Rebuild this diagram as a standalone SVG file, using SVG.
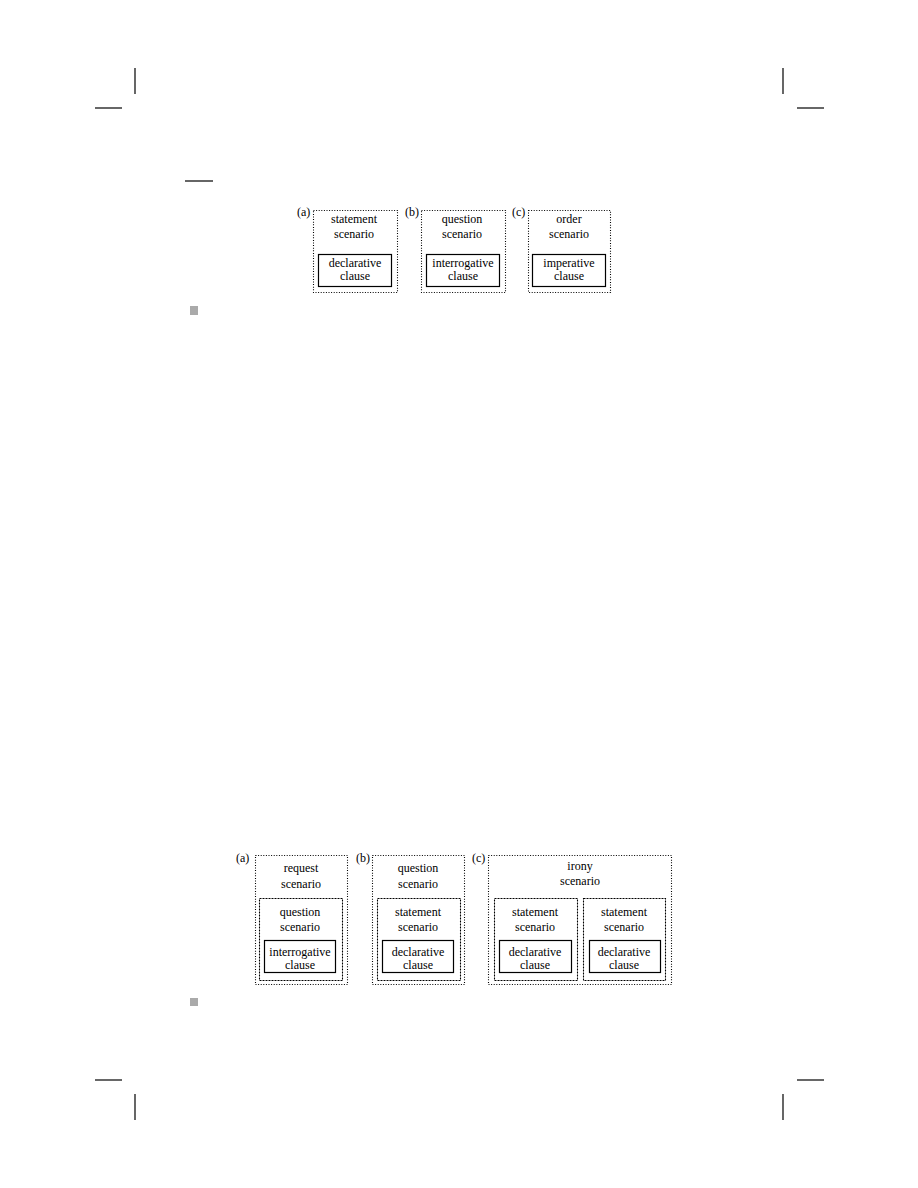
<svg xmlns="http://www.w3.org/2000/svg" width="918" height="1188" viewBox="0 0 918 1188">
<style>
text{font-family:"Liberation Serif","Times New Roman",serif;font-size:12px;fill:#000;text-anchor:middle}
.lbl{text-anchor:start}
.dot{fill:none;stroke:#000;stroke-width:1.1;stroke-dasharray:1,1.6}
.dash{fill:none;stroke:#000;stroke-width:1.1;stroke-dasharray:2,1}
.solid{fill:none;stroke:#000;stroke-width:1.2}
.mark{stroke:#000;stroke-width:1.2}
.sq{fill:#aaaaaa}
</style>
<rect width="918" height="1188" fill="#fff"/>
<g id="cropmarks">
<line class="mark" x1="135" y1="68" x2="135" y2="94"/>
<line class="mark" x1="95" y1="108" x2="122" y2="108"/>
<line class="mark" x1="783" y1="68" x2="783" y2="94"/>
<line class="mark" x1="797" y1="108" x2="824" y2="108"/>
<line class="mark" x1="95" y1="1080" x2="122" y2="1080"/>
<line class="mark" x1="135" y1="1094" x2="135" y2="1120"/>
<line class="mark" x1="797" y1="1080" x2="824" y2="1080"/>
<line class="mark" x1="783" y1="1094" x2="783" y2="1120"/>
<line class="mark" x1="185" y1="181" x2="213" y2="181"/>
</g>
<rect class="sq" x="190" y="306" width="8" height="9"/>
<rect class="sq" x="190" y="998" width="8" height="8"/>
<g id="connectors"/>
<!-- Figure 1 -->
<g id="fig1a">
<text class="lbl" x="297" y="216">(a)</text>
<rect class="dot" x="313.5" y="210.5" width="84" height="82"/>
<text x="354" y="223">statement</text>
<text x="354" y="238">scenario</text>
<rect class="solid" x="318.5" y="254.5" width="73" height="32"/>
<text x="355" y="267">declarative</text>
<text x="355" y="280">clause</text>
</g>
<g id="fig1b">
<text class="lbl" x="405" y="216">(b)</text>
<rect class="dot" x="421.5" y="210.5" width="84" height="82"/>
<text x="462" y="223">question</text>
<text x="462" y="238">scenario</text>
<rect class="solid" x="426.5" y="254.5" width="73" height="32"/>
<text x="463" y="267">interrogative</text>
<text x="463" y="280">clause</text>
</g>
<g id="fig1c">
<text class="lbl" x="512" y="216">(c)</text>
<rect class="dot" x="528.5" y="210.5" width="82" height="82"/>
<text x="569" y="223">order</text>
<text x="569" y="238">scenario</text>
<rect class="solid" x="532.5" y="254.5" width="73" height="32"/>
<text x="569" y="267">imperative</text>
<text x="569" y="280">clause</text>
</g>
<!-- Figure 2 -->
<g id="fig2a">
<text class="lbl" x="236" y="862">(a)</text>
<rect class="dot" x="255.5" y="855.5" width="92" height="129"/>
<text x="301" y="872">request</text>
<text x="301" y="888">scenario</text>
<g id="fig2a-inner">
<rect class="dash" x="259.5" y="898.5" width="83" height="82"/>
<text x="300" y="916">question</text>
<text x="300" y="931">scenario</text>
<rect class="solid" x="264.5" y="940.5" width="71" height="32"/>
<text x="300" y="956">interrogative</text>
<text x="300" y="969">clause</text>
</g>
</g>
<g id="fig2b">
<text class="lbl" x="356" y="862">(b)</text>
<rect class="dot" x="372.5" y="855.5" width="92" height="129"/>
<text x="418" y="872">question</text>
<text x="418" y="888">scenario</text>
<g id="fig2b-inner">
<rect class="dash" x="377.5" y="898.5" width="83" height="82"/>
<text x="418" y="916">statement</text>
<text x="418" y="931">scenario</text>
<rect class="solid" x="382.5" y="940.5" width="71" height="32"/>
<text x="418" y="956">declarative</text>
<text x="418" y="969">clause</text>
</g>
</g>
<g id="fig2c">
<text class="lbl" x="472" y="862">(c)</text>
<rect class="dot" x="488.5" y="855.5" width="183" height="129"/>
<text x="580" y="870">irony</text>
<text x="580" y="885">scenario</text>
<g id="fig2c-left">
<rect class="dash" x="494.5" y="898.5" width="83" height="82"/>
<text x="535" y="916">statement</text>
<text x="535" y="931">scenario</text>
<rect class="solid" x="499.5" y="940.5" width="72" height="32"/>
<text x="535" y="956">declarative</text>
<text x="535" y="969">clause</text>
</g>
<g id="fig2c-right">
<rect class="dash" x="583.5" y="898.5" width="82" height="82"/>
<text x="624" y="916">statement</text>
<text x="624" y="931">scenario</text>
<rect class="solid" x="589.5" y="940.5" width="71" height="32"/>
<text x="624" y="956">declarative</text>
<text x="624" y="969">clause</text>
</g>
</g>
</svg>
